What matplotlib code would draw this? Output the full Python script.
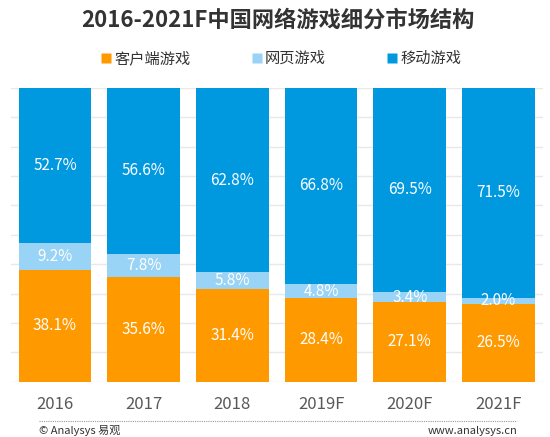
import numpy as np
import matplotlib.pyplot as plt
from matplotlib.lines import Line2D

plt.rcParams['font.family'] = ['Noto Sans CJK SC', 'DejaVu Sans']

years = ['2016', '2017', '2018', '2019F', '2020F', '2021F']
client_games = [38.1, 35.6, 31.4, 28.4, 27.1, 26.5]
web_games = [9.2, 7.8, 5.8, 4.8, 3.4, 2.0]
mobile_games = [52.7, 56.6, 62.8, 66.8, 69.5, 71.5]
series_names = ['客户端游戏', '网页游戏', '移动游戏']
colors = ['#FF9900', '#99D3F5', '#0099E0']

fig = plt.figure(figsize=(5.5, 4.37), dpi=100)
ax = fig.add_axes([0.0193, 0.1265, 0.9677, 0.6728])

x = np.arange(len(years))
width = 0.82
bottom = np.zeros(len(years))
for vals, color in zip([client_games, web_games, mobile_games], colors):
    vals = np.array(vals)
    ax.bar(x, vals, width, bottom=bottom, color=color, edgecolor='none', zorder=2)
    for xi, b, v in zip(x, bottom, vals):
        ax.text(xi, b + v / 2, f'{v:.1f}%', ha='center', va='center',
                color='white', fontsize=11, zorder=3)
    bottom = bottom + vals

ax.set_xlim(-0.5, len(years) - 0.5)
ax.set_ylim(0, 100)
ax.set_yticks(np.arange(0, 101, 10))
ax.yaxis.grid(True, color='#E8E8E8', linewidth=1, zorder=0)
ax.tick_params(axis='y', left=False, labelleft=False)
ax.tick_params(axis='x', bottom=False, labelsize=12, labelcolor='#595959', pad=7)
ax.set_xticks(x)
ax.set_xticklabels(years)
for s in ax.spines.values():
    s.set_visible(False)

fig.text(0.505, 0.954, '2016-2021F中国网络游戏细分市场结构', ha='center', va='center',
         fontsize=16, fontweight='bold', color='#333333')

handles = [Line2D([], [], marker='s', linestyle='none', markersize=7,
                  markerfacecolor=c, markeredgecolor='none') for c in colors]
fig.legend(handles, series_names, loc='center', bbox_to_anchor=(0.509, 0.866), ncol=3,
           frameon=False, fontsize=11, labelcolor='#333333', handletextpad=0.05,
           columnspacing=3.8, handlelength=1.0)

fig.add_artist(Line2D([0.071, 0.94], [0.037, 0.037], transform=fig.transFigure,
                      color='#999999', linestyle=(0, (1, 1)), linewidth=0.8))
fig.text(0.071, 0.014, '© Analysys 易观', ha='left', va='center', fontsize=8, color='#333333')
fig.text(0.94, 0.014, 'www.analysys.cn', ha='right', va='center', fontsize=8, color='#333333')

fig.savefig('out.png', dpi=100)
